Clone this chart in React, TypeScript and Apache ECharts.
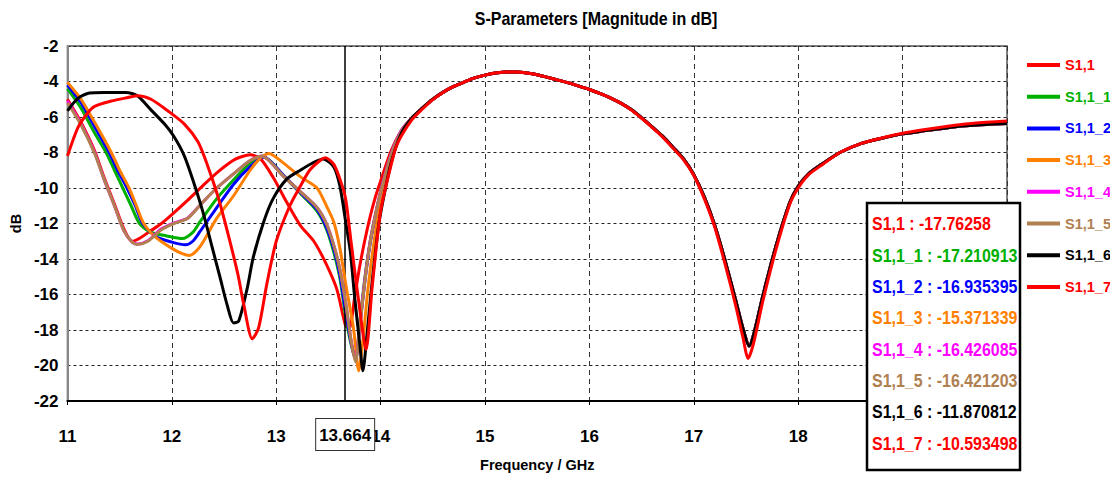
import React, { useEffect, useRef } from "react";
import * as echarts from "echarts";

const FONT = '"Liberation Sans", Arial, sans-serif';

const seriesNames = ["S1,1", "S1,1_1", "S1,1_2", "S1,1_3", "S1,1_4", "S1,1_5", "S1,1_6", "S1,1_7"];
const seriesColors = ["#ff0000", "#00b000", "#0000ff", "#ff8000", "#ff00ff", "#b08050", "#000000", "#ff0000"];
const markerFreq = 13.664;
const markerValues = ["-17.76258", "-17.210913", "-16.935395", "-15.371339", "-16.426085", "-16.421203", "-11.870812", "-10.593498"];
const xMin = 11, xMax = 20, xStep = 1;
const yMin = -22, yMax = -2, yStep = 2;

// shared upper band (all curves overlap from ~14.3 GHz on)
const tailCommon = [
  [14.3, -6.05], [14.4, -5.5], [14.5, -5.0], [14.6, -4.6], [14.7, -4.28], [14.8, -4.03], [14.9, -3.8],
  [15.0, -3.64], [15.1, -3.52], [15.2, -3.47], [15.3, -3.46], [15.4, -3.52], [15.5, -3.62], [15.6, -3.77],
  [15.7, -3.92], [15.8, -4.08], [15.9, -4.26], [16.0, -4.45], [16.1, -4.67], [16.2, -4.92], [16.3, -5.22],
  [16.4, -5.58], [16.5, -6.05], [16.6, -6.55], [16.7, -7.08], [16.8, -7.7], [16.9, -8.35], [17.0, -9.25],
  [17.1, -10.5], [17.2, -12.1], [17.3, -14.1], [17.4, -16.3], [17.47, -17.9], [17.53, -18.9], [17.58, -18.1],
  [17.66, -16.1], [17.79, -13.2], [17.92, -10.8], [18.0, -9.9], [18.1, -9.2], [18.24, -8.6], [18.4, -8.0],
  [18.6, -7.5], [18.8, -7.2], [19.0, -6.95], [19.2, -6.78], [19.4, -6.63], [19.6, -6.5], [19.8, -6.42], [20.0, -6.37],
];
const tailS117 = [
  [14.3, -6.15], [14.4, -5.55], [14.5, -5.02], [14.6, -4.6], [14.7, -4.28], [14.8, -4.03], [14.9, -3.8],
  [15.0, -3.64], [15.1, -3.52], [15.2, -3.47], [15.3, -3.46], [15.4, -3.52], [15.5, -3.62], [15.6, -3.77],
  [15.7, -3.92], [15.8, -4.08], [15.9, -4.26], [16.0, -4.45], [16.1, -4.67], [16.2, -4.92], [16.3, -5.22],
  [16.4, -5.6], [16.5, -6.07], [16.6, -6.58], [16.7, -7.12], [16.8, -7.75], [16.9, -8.4], [17.0, -9.3],
  [17.1, -10.6], [17.2, -12.2], [17.3, -14.3], [17.4, -16.6], [17.47, -18.4], [17.52, -19.6], [17.57, -18.8],
  [17.66, -16.4], [17.79, -13.4], [17.92, -10.9], [18.0, -10.0], [18.1, -9.25], [18.24, -8.65], [18.4, -8.0],
  [18.6, -7.5], [18.8, -7.18], [19.0, -6.92], [19.2, -6.72], [19.4, -6.55], [19.6, -6.4], [19.8, -6.3], [20.0, -6.22],
];

const s11 = [
  [11.0, -5.0], [11.13, -6.3], [11.26, -7.9], [11.35, -9.4], [11.45, -10.9], [11.54, -12.3], [11.62, -13.0],
  [11.7, -12.8], [11.8, -12.4], [11.9, -12.0], [12.0, -11.5], [12.15, -10.7], [12.3, -9.85], [12.45, -9.05],
  [12.6, -8.4], [12.75, -8.13], [12.85, -8.36], [12.97, -9.4], [13.1, -10.8], [13.23, -12.1], [13.36, -13.0],
  [13.48, -14.3], [13.58, -15.7], [13.664, -17.76], [13.7, -17.9], [13.75, -16.2], [13.8, -14.4], [13.85, -12.9],
  [13.9, -11.6], [13.95, -10.5], [14.0, -9.6], [14.1, -7.9], [14.2, -6.75],
];
const s11_1 = [
  [11.0, -4.4], [11.13, -5.5], [11.26, -6.9], [11.37, -8.0], [11.45, -9.0], [11.53, -10.0], [11.61, -11.0],
  [11.69, -12.0], [11.8, -12.5], [11.95, -12.7], [12.1, -12.85], [12.2, -12.5], [12.27, -11.9], [12.43, -10.6],
  [12.59, -9.55], [12.75, -8.6], [12.88, -8.25], [13.07, -9.3], [13.23, -10.3], [13.39, -11.3], [13.48, -12.3],
  [13.55, -13.6], [13.61, -15.1], [13.664, -17.21], [13.72, -18.9], [13.76, -19.6], [13.8, -17.6], [13.85, -15.0],
  [13.9, -13.0], [13.95, -11.5], [14.0, -10.2], [14.1, -8.1], [14.2, -6.75],
];
const s11_2 = [
  [11.0, -4.2], [11.13, -5.2], [11.26, -6.55], [11.4, -8.0], [11.48, -9.0], [11.57, -10.0], [11.65, -11.0],
  [11.72, -12.0], [11.85, -12.75], [12.0, -13.05], [12.13, -13.2], [12.2, -13.0], [12.27, -12.45], [12.43, -11.1],
  [12.59, -9.8], [12.75, -8.8], [12.88, -8.25], [13.07, -9.3], [13.23, -10.25], [13.39, -11.2], [13.48, -12.2],
  [13.55, -13.4], [13.61, -14.9], [13.664, -16.94], [13.72, -18.8], [13.76, -19.6], [13.8, -17.8], [13.85, -15.2],
  [13.9, -13.1], [13.95, -11.6], [14.0, -10.3], [14.1, -8.2], [14.2, -6.8],
];
const s11_3 = [
  [11.0, -4.05], [11.13, -5.0], [11.26, -6.3], [11.42, -8.0], [11.5, -9.0], [11.59, -10.0], [11.66, -11.0],
  [11.73, -12.0], [11.85, -12.8], [12.0, -13.4], [12.1, -13.7], [12.17, -13.8], [12.27, -13.3], [12.43, -11.7],
  [12.59, -10.45], [12.75, -9.0], [12.85, -8.3], [12.93, -8.05], [13.07, -8.6], [13.23, -9.36], [13.39, -10.0],
  [13.48, -11.0], [13.55, -11.9], [13.61, -13.4], [13.664, -15.37], [13.74, -17.9], [13.79, -20.3], [13.83, -18.6],
  [13.88, -15.6], [13.95, -12.5], [14.0, -10.8], [14.1, -8.3], [14.2, -6.85],
];
const s11_4 = [
  [11.0, -5.1], [11.13, -6.4], [11.26, -8.0], [11.35, -9.5], [11.45, -11.0], [11.54, -12.4], [11.62, -13.05],
  [11.67, -13.15], [11.77, -12.97], [11.9, -12.3], [12.02, -11.97], [12.15, -11.7], [12.28, -10.9], [12.43, -10.0],
  [12.59, -9.2], [12.75, -8.45], [12.86, -8.2], [13.07, -9.35], [13.23, -10.2], [13.39, -11.1], [13.48, -12.0],
  [13.55, -13.2], [13.61, -14.6], [13.664, -16.43], [13.72, -18.7], [13.76, -19.7], [13.8, -17.7], [13.85, -15.1],
  [13.9, -13.0], [13.95, -11.5], [14.0, -10.2], [14.1, -8.1], [14.2, -6.75],
];
const s11_5 = [
  [11.0, -5.2], [11.13, -6.45], [11.26, -8.05], [11.35, -9.5], [11.45, -11.0], [11.54, -12.4], [11.62, -13.05],
  [11.67, -13.18], [11.77, -13.0], [11.9, -12.35], [12.02, -12.0], [12.15, -11.72], [12.28, -10.9], [12.43, -10.0],
  [12.59, -9.2], [12.75, -8.45], [12.86, -8.2], [13.07, -9.35], [13.23, -10.2], [13.39, -11.1], [13.48, -12.0],
  [13.55, -13.2], [13.61, -14.6], [13.664, -16.42], [13.72, -18.7], [13.76, -19.8], [13.8, -17.8], [13.85, -15.2],
  [13.9, -13.05], [13.95, -11.55], [14.0, -10.25], [14.1, -8.15], [14.2, -6.8],
];
const s11_6 = [
  [11.0, -5.65], [11.1, -4.95], [11.21, -4.65], [11.35, -4.62], [11.56, -4.62], [11.67, -4.8], [11.8, -5.6],
  [11.93, -6.4], [12.02, -7.1], [12.12, -8.2], [12.21, -9.7], [12.3, -11.4], [12.38, -13.2], [12.46, -15.0],
  [12.53, -16.6], [12.59, -17.6], [12.64, -17.5], [12.72, -15.7], [12.78, -13.9], [12.88, -11.9], [12.97, -10.6],
  [13.1, -9.5], [13.23, -9.0], [13.36, -8.55], [13.45, -8.36], [13.55, -8.8], [13.61, -9.9], [13.664, -11.87],
  [13.71, -13.6], [13.75, -16.1], [13.8, -18.8], [13.83, -20.3], [13.87, -18.2], [13.92, -15.2], [13.97, -12.6],
  [14.0, -11.4], [14.1, -8.6], [14.2, -6.9],
];
const s11_7 = [
  [11.0, -8.2], [11.1, -6.6], [11.19, -5.8], [11.26, -5.4], [11.42, -5.1], [11.58, -4.9], [11.67, -4.8],
  [11.8, -5.0], [11.96, -5.65], [12.12, -6.4], [12.25, -7.4], [12.34, -8.7], [12.44, -10.45], [12.53, -12.4],
  [12.63, -14.8], [12.69, -16.6], [12.77, -18.5], [12.83, -17.9], [12.91, -15.4], [13.0, -13.0], [13.13, -11.0],
  [13.23, -9.9], [13.32, -9.0], [13.42, -8.45], [13.47, -8.3], [13.55, -8.65], [13.61, -9.5], [13.664, -10.59],
  [13.72, -13.2], [13.79, -16.4], [13.86, -19.1], [13.92, -15.5], [14.0, -11.3], [14.1, -8.7], [14.16, -7.5],
];

const seriesData = [
  [...s11, ...tailCommon],
  [...s11_1, ...tailCommon],
  [...s11_2, ...tailCommon],
  [...s11_3, ...tailCommon],
  [...s11_4, ...tailCommon],
  [...s11_5, ...tailCommon],
  [...s11_6, ...tailCommon],
  [...s11_7, ...tailS117],
];

export default function App() {
  const ref = useRef<HTMLDivElement>(null);
  useEffect(() => {
    if (!ref.current) return;
    const chart = echarts.init(ref.current, undefined, { renderer: "svg" });
    const boxX = 867, boxY = 203, boxW = 153, boxH = 267;
    const rowTop = 224, rowStep = 31.3;
    const graphic: any[] = [
      {
        type: "text", x: 537, y: 19, z: 100, scaleX: 0.89, originX: 537, originY: 19,
        style: { text: "S-Parameters [Magnitude in dB]", align: "center", verticalAlign: "middle", font: `bold 18px ${FONT}`, fill: "#000" },
      },
      {
        type: "rect", z: 100, shape: { x: boxX, y: boxY, width: boxW, height: boxH },
        style: { fill: "#fff", stroke: "#000", lineWidth: 2.5 },
      },
      ...seriesNames.map((n, i) => ({
        type: "text", z: 101, x: boxX + 5, y: rowTop + i * rowStep, scaleX: 0.84,
        style: { text: `${n} : ${markerValues[i]}`, align: "left", verticalAlign: "middle", font: `bold 19px ${FONT}`, fill: seriesColors[i] },
      })),
    ];
    chart.setOption({
      animation: false,
      backgroundColor: "#fff",
      grid: { left: 67, right: 103, top: 46, bottom: 67, show: true, borderColor: "#555", borderWidth: 1.5 },
      legend: {
        orient: "vertical", left: 1022, top: 50, icon: "rect", itemWidth: 33, itemHeight: 4, itemGap: 11.7,
        textStyle: { fontFamily: FONT, fontSize: 14.5, fontWeight: "bold", lineHeight: 20 },
        data: seriesNames.map((n, i) => ({ name: n, textStyle: { color: seriesColors[i] } })),
      },
      xAxis: {
        type: "value", min: xMin, max: xMax, interval: xStep,
        name: "Frequency / GHz", nameLocation: "middle", nameGap: 56,
        nameTextStyle: { fontFamily: FONT, fontSize: 14.5, fontWeight: "bold", color: "#000" },
        axisLine: { show: true, onZero: false, lineStyle: { color: "#000", width: 2 } },
        axisTick: { show: true, inside: false, length: 4, lineStyle: { color: "#000" } },
        axisLabel: { fontFamily: FONT, fontSize: 17, fontWeight: "bold", color: "#000", margin: 27 },
        splitLine: { show: true, lineStyle: { color: "#333", width: 1, type: [5, 4] } },
      },
      yAxis: {
        type: "value", min: yMin, max: yMax, interval: yStep,
        name: "dB", nameLocation: "middle", nameGap: 44, nameRotate: 90,
        nameTextStyle: { fontFamily: FONT, fontSize: 14.5, fontWeight: "bold", color: "#000" },
        axisLine: { show: true, onZero: false, lineStyle: { color: "#888", width: 2 } },
        axisTick: { show: false },
        axisLabel: { fontFamily: FONT, fontSize: 17, fontWeight: "bold", color: "#000", margin: 9 },
        splitLine: { show: true, lineStyle: { color: "#222", width: 1, type: [3, 3] } },
      },
      series: seriesData.map((d, i) => ({
        name: seriesNames[i], type: "line", data: d, symbol: "none", smooth: 0.25, z: 2 + i,
        lineStyle: { width: 3, color: seriesColors[i] }, itemStyle: { color: seriesColors[i] },
        ...(i === 0
          ? {
              markLine: {
                silent: true, symbol: ["none", "none"],
                lineStyle: { color: "#000", width: 1.5, type: "solid" },
                label: {
                  show: true, position: "start", formatter: String(markerFreq), distance: 18,
                  fontFamily: FONT, fontSize: 17, fontWeight: "bold", color: "#000", lineHeight: 20,
                  backgroundColor: "#fff", borderColor: "#333", borderWidth: 1, padding: [6, 3, 5, 3],
                },
                data: [{ xAxis: markerFreq }],
              },
            }
          : {}),
      })),
      graphic,
    });
    return () => chart.dispose();
  }, []);
  return <div ref={ref} style={{ position: "fixed", left: 0, top: 0, width: 1110, height: 477 }} />;
}
